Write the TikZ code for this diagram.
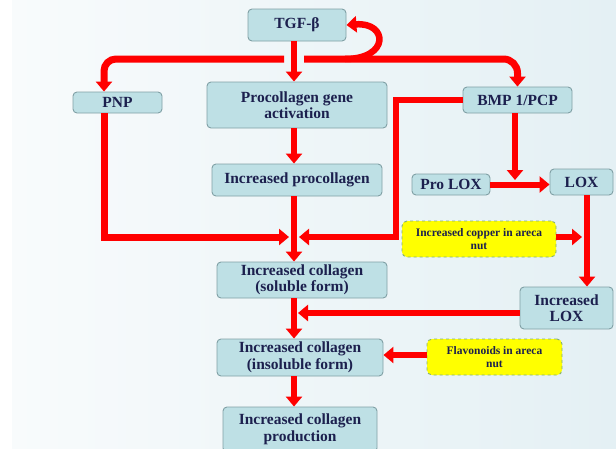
\documentclass[tikz,border=0pt]{standalone}
\usepackage{fontspec}
\setmainfont{Liberation Serif}
\usetikzlibrary{arrows.meta,calc}
\definecolor{boxfill}{RGB}{190,224,229}
\definecolor{boxline}{RGB}{128,160,165}
\definecolor{txt}{RGB}{28,32,78}
\definecolor{yel}{RGB}{255,255,0}
\definecolor{yelline}{RGB}{130,175,120}
\definecolor{bgl}{RGB}{248,251,252}
\definecolor{bgr}{RGB}{228,240,244}
\definecolor{arr}{RGB}{255,0,0}
\tikzset{
 box/.style={draw=boxline, line width=0.9pt, fill=boxfill, rounded corners=4pt, inner sep=0pt, align=center, text=txt, font=\fontsize{15.5}{16.5}\selectfont\bfseries},
 note/.style={draw=yelline, dashed, line width=0.9pt, fill=yel, rounded corners=5pt, inner sep=0pt, align=center, text=txt, font=\fontsize{11.5}{13}\selectfont\bfseries},
 flow/.style={draw=arr, line width=6pt, -{Triangle[width=16pt,length=10pt]}},
}
\begin{document}
\begin{tikzpicture}[x=1pt,y=-1pt]
\useasboundingbox (0,0) rectangle (616,448);
\clip (0,0) rectangle (616,448);
\fill[white] (0,0) rectangle (616,448);
\shade[left color=bgl, right color=bgr] (12,0) rectangle (616,448);
% nodes
\node[box, minimum width=98pt, minimum height=32pt] (tgf) at (297,25) {TGF-β};
\node[box, minimum width=89pt, minimum height=21pt] (pnp) at (117.5,102.5) {PNP};
\node[box, minimum width=180pt, minimum height=46pt] (proc) at (297,105) {Procollagen gene\\activation};
\node[box, minimum width=109pt, minimum height=26pt] (bmp) at (517.5,100) {BMP 1/PCP};
\node[box, minimum width=170pt, minimum height=32pt] (incproc) at (297,180) {Increased procollagen};
\node[box, minimum width=78pt, minimum height=21pt] (prolox) at (451,184.5) {Pro LOX};
\node[box, minimum width=63pt, minimum height=26pt] (lox) at (581.5,182) {LOX};
\node[note, minimum width=154pt, minimum height=36pt] (copper) at (479,239) {Increased copper in areca\\nut};
\node[box, minimum width=170pt, minimum height=36pt] (sol) at (302,280) {Increased collagen\\(soluble form)};
\node[box, minimum width=93pt, minimum height=42pt] (inclox) at (566.5,308) {Increased\\LOX};
\node[box, minimum width=166pt, minimum height=37pt] (insol) at (300,357.5) {Increased collagen\\(insoluble form)};
\node[note, minimum width=135pt, minimum height=36pt] (flav) at (494.5,357) {Flavonoids in areca\\nut};
\node[box, minimum width=154pt, minimum height=45pt] (prod) at (300,429.5) {Increased collagen\\production};
% helper coordinates
\coordinate (spine) at (294,0);
\coordinate (pnpx) at (104,0);
\coordinate (bmpx) at (515,0);
\coordinate (loxx) at (587,0);
\coordinate (barL) at (284,59);
\coordinate (barR) at (304,59);
\coordinate (loopS) at (345,59);
\coordinate (jl) at (289,237);
\coordinate (jr) at (299,237);
\coordinate (bend1) at (396,237);
\coordinate (bmptip) at (515,180);
\coordinate (cuTip) at (582,237);
\coordinate (loxTip) at (298,313);
\coordinate (flavy) at (0,355);
% connectors
\draw[flow, line width=7pt, rounded corners=12pt] (barL) -| (pnp.north -| pnpx);
\draw[flow, line width=7pt, rounded corners=14pt] (barR) -| (bmp.north);
\draw[flow, line width=6.5pt] (loopS) .. controls (390,59) and (388,22) .. (tgf.east);
\draw[flow] (tgf.south -| spine) -- (proc.north -| spine);
\draw[flow] (proc.south -| spine) -- (incproc.north -| spine);
\draw[flow] (incproc.south -| spine) -- (sol.north -| spine);
\draw[flow, line width=7pt] (pnp.south -| pnpx) |- (jl);
\draw[flow] (bmp.west) -| (bend1) -- (jr);
\draw[flow] (bmp.south -| bmpx) -- (bmptip);
\draw[flow] (prolox.east) -- (lox.west |- prolox.east);
\draw[flow] (lox.south -| loxx) -- (inclox.north -| loxx);
\draw[flow] (copper.east |- cuTip) -- (cuTip);
\draw[flow] (inclox.west |- loxTip) -- (loxTip);
\draw[flow] (sol.south -| spine) -- (insol.north -| spine);
\draw[flow] (flav.west |- flavy) -- (insol.east |- flavy);
\draw[flow] (insol.south -| spine) -- (prod.north -| spine);
\end{tikzpicture}
\end{document}
